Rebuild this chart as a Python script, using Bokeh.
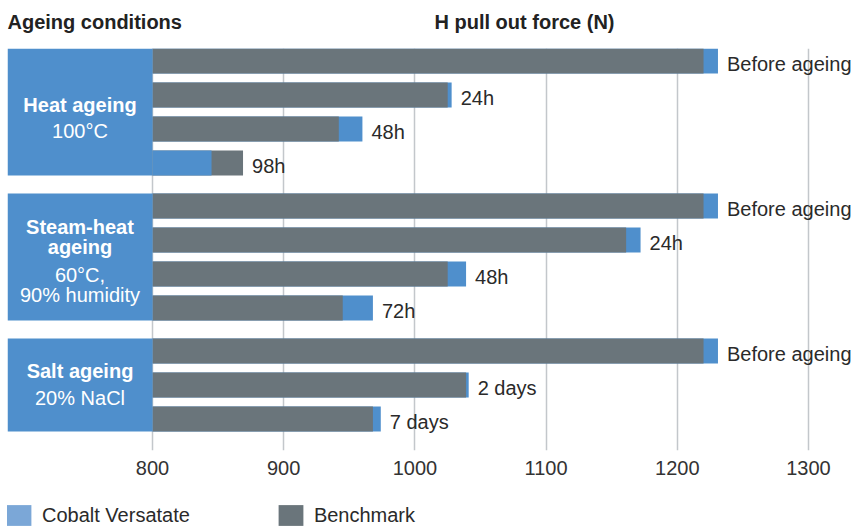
from bokeh.plotting import figure
from bokeh.layouts import column
from bokeh.models import Range1d, FixedTicker, Legend, LegendItem, ColumnDataSource
from bokeh.core.properties import value
from bokeh.embed import file_html
from bokeh.resources import INLINE

# ---------------- data ----------------
group_titles = [["Heat ageing"], ["Steam-heat", "ageing"], ["Salt ageing"]]
group_conditions = [["100°C"], ["60°C,", "90% humidity"], ["20% NaCl"]]
row_labels = [
    ["Before ageing", "24h", "48h", "98h"],
    ["Before ageing", "24h", "48h", "72h"],
    ["Before ageing", "2 days", "7 days"],
]
cobalt = [
    [1231, 1028, 960, 845],
    [1231, 1172, 1039, 968],
    [1231, 1041, 974],
]
benchmark = [
    [1220, 1025, 942, 869],
    [1220, 1161, 1025, 945],
    [1220, 1039, 968],
]
ticks = [800, 900, 1000, 1100, 1200, 1300]
series_names = ["Cobalt Versatate", "Benchmark"]
headers = ["Ageing conditions", "H pull out force (N)"]

# ---------------- style / layout ----------------
FONT = "Liberation Sans"
BLUE = "#4f8fcc"
LEGEND_BLUE = "#7ba7d7"
GRAY = "#6a757b"
TEXT = "#2a2a2a"
ROW_PX = 34.0
BAR_PX = 25.0
GROUP_STRIDE = 145.0 / ROW_PX
BAR_H = BAR_PX / ROW_PX
PX_PER_UNIT = 656.0 / 500.0
W = 857
LEFT = 7
HEAD_H, MAIN_H, LEG_H = 40, 448, 38
TOP, BOTTOM = 8, 38
X0 = 800 - (152 - LEFT) / PX_PER_UNIT
X1 = X0 + (W - LEFT) / PX_PER_UNIT
Y_TOP = -(BAR_PX / 2) / ROW_PX
Y_BOT = Y_TOP + (MAIN_H - TOP - BOTTOM) / ROW_PX
# baselines of the text lines in each box, px relative to box centre
LINE_BASE = [[-7.2, 18.5], [-30.2, -10.2, 17.8, 38.0], [-14.3, 13.0]]

xr = Range1d(X0, X1)

# ---------------- header strip ----------------
ph = figure(width=W, height=HEAD_H, output_backend="svg", toolbar_location=None,
            x_range=xr, y_range=Range1d(HEAD_H, 0),
            x_axis_location=None, y_axis_location=None,
            min_border_left=LEFT, min_border_right=0, min_border_top=0, min_border_bottom=0)
ph.outline_line_color = None
ph.grid.visible = False
ph.text(x=[X0, 800 + (434 - 152) / PX_PER_UNIT], y=[21.0, 21.0], text=headers,
        text_font=value(FONT), text_font_size="20px", text_font_style="bold",
        text_color="#222222", text_baseline="alphabetic", text_align="left")

# ---------------- main chart ----------------
p = figure(width=W, height=MAIN_H, output_backend="svg", toolbar_location=None,
           x_range=xr, y_range=Range1d(Y_BOT, Y_TOP),
           y_axis_location=None, min_border_left=LEFT, min_border_right=0,
           min_border_top=TOP, min_border_bottom=BOTTOM)
p.outline_line_color = None
p.background_fill_color = "white"
p.ygrid.visible = False
p.xgrid.ticker = FixedTicker(ticks=ticks)
p.xgrid.grid_line_color = "#c3c7cb"
p.xgrid.grid_line_width = 1.5
p.xaxis.ticker = FixedTicker(ticks=ticks)
p.xaxis.axis_line_color = None
p.xaxis.major_tick_line_color = None
p.xaxis.minor_tick_line_color = None
p.xaxis.major_label_standoff = 4
p.xaxis.major_label_text_font = FONT
p.xaxis.major_label_text_font_size = "20px"
p.xaxis.major_label_text_color = "#333333"

# bars: longer bar behind, shorter bar in front
ys, back_v, back_c, front_v, front_c, lab, lab_x = [], [], [], [], [], [], []
for g in range(len(row_labels)):
    for i in range(len(row_labels[g])):
        y = g * GROUP_STRIDE + i
        c, b = cobalt[g][i], benchmark[g][i]
        ys.append(y)
        if c >= b:
            back_v.append(c); back_c.append(BLUE); front_v.append(b); front_c.append(GRAY)
        else:
            back_v.append(b); back_c.append(GRAY); front_v.append(c); front_c.append(BLUE)
        lab.append(row_labels[g][i])
        lab_x.append(max(c, b))

src = ColumnDataSource(dict(y=ys, back=back_v, bc=back_c, front=front_v, fc=front_c,
                            lab=lab, lx=lab_x))
p.hbar(y="y", left=800, right="back", height=BAR_H, fill_color="bc", line_color=None, source=src)
p.hbar(y="y", left=800, right="front", height=BAR_H, fill_color="fc", line_color=None, source=src)
p.text(x="lx", y="y", text="lab", source=src, x_offset=9, y_offset=3,
       text_font=value(FONT), text_font_size="20px", text_color=TEXT,
       text_baseline="middle", text_align="left")

# group boxes
bt, bb = [], []
bold_x, bold_y, bold_t, reg_x, reg_y, reg_t = [], [], [], [], [], []
for g in range(len(row_labels)):
    top = g * GROUP_STRIDE - BAR_H / 2
    bot = g * GROUP_STRIDE + len(row_labels[g]) - 1 + BAR_H / 2
    bt.append(top); bb.append(bot)
    cen = (top + bot) / 2
    offs = LINE_BASE[g]
    nb = len(group_titles[g])
    for k, t in enumerate(group_titles[g]):
        bold_x.append((X0 + 800) / 2); bold_y.append(cen + offs[k] / ROW_PX); bold_t.append(t)
    for k, t in enumerate(group_conditions[g]):
        reg_x.append((X0 + 800) / 2); reg_y.append(cen + offs[nb + k] / ROW_PX); reg_t.append(t)

p.quad(left=X0, right=800, top=bt, bottom=bb, fill_color=BLUE, line_color=None)
p.text(x=bold_x, y=bold_y, text=bold_t, text_font=value(FONT), text_font_size="20px",
       text_font_style="bold", text_color="white", text_align="center", text_baseline="alphabetic")
p.text(x=reg_x, y=reg_y, text=reg_t, text_font=value(FONT), text_font_size="20px",
       text_color="white", text_align="center", text_baseline="alphabetic")

# ---------------- legend strip ----------------
pl = figure(width=W, height=LEG_H, output_backend="svg", toolbar_location=None,
            x_range=Range1d(0, W), y_range=Range1d(0, LEG_H),
            x_axis_location=None, y_axis_location=None,
            min_border_left=0, min_border_right=0, min_border_top=0, min_border_bottom=0)
pl.outline_line_color = None
pl.grid.visible = False
r1 = pl.hbar(y=[-100], left=[-200], right=[-150], height=1, fill_color=LEGEND_BLUE, line_color=None)
r2 = pl.hbar(y=[-100], left=[-200], right=[-150], height=1, fill_color=GRAY, line_color=None)
legend = Legend(items=[LegendItem(label=series_names[0], renderers=[r1]),
                       LegendItem(label=series_names[1], renderers=[r2])],
                location=(-4, -2), orientation="horizontal", padding=0, margin=0,
                spacing=85, glyph_width=31, glyph_height=26, label_height=22,
                label_standoff=8,
                label_text_font=FONT, label_text_font_size="20px", label_text_color=TEXT,
                border_line_color=None, background_fill_alpha=0)
pl.add_layout(legend)

layout = column(ph, p, pl, spacing=0)
open("out.html", "w").write(file_html(layout, INLINE))
